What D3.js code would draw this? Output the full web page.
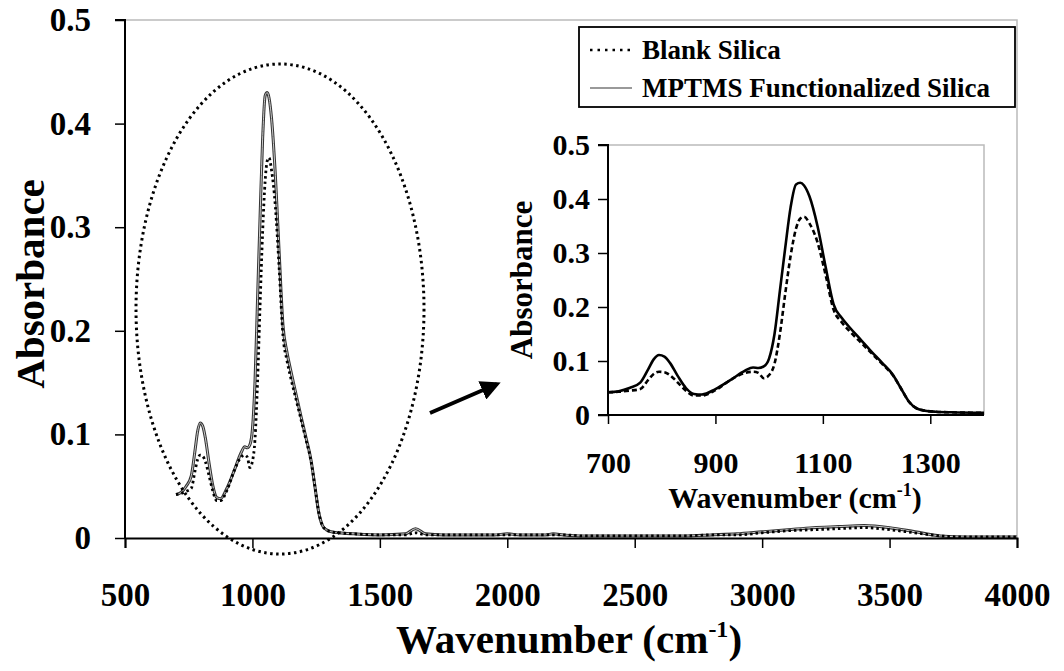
<!DOCTYPE html>
<html>
<head>
<meta charset="utf-8">
<script src="https://cdn.jsdelivr.net/npm/d3@7"></script>
<style>
  body { margin: 0; background: #fff; }
</style>
</head>
<body>
<svg id="chart" width="1064" height="671"></svg>
<script>
// wavenumbers (cm-1) shared by both spectra
const waves = [700, 720, 740, 760, 775, 785, 795, 805, 815, 830, 845, 860, 875, 900, 930, 955, 970, 980, 990,
  1000, 1010, 1020, 1030, 1040, 1050, 1058, 1065, 1075, 1090, 1105, 1120, 1135, 1150, 1170, 1190, 1210, 1230,
  1245, 1260, 1275, 1290, 1310, 1340, 1400, 1500, 1600, 1640, 1680, 1750, 1850, 1950, 2000, 2050, 2150, 2180,
  2220, 2300, 2400, 2500, 2600, 2700, 2800, 2900, 3000, 3100, 3200, 3300, 3400, 3500, 3600, 3700, 3800, 4000];

const mptms = [0.042, 0.044, 0.050, 0.060, 0.085, 0.103, 0.111, 0.108, 0.097, 0.072, 0.050, 0.039, 0.038, 0.048,
  0.066, 0.082, 0.088, 0.087, 0.090, 0.105, 0.150, 0.230, 0.310, 0.385, 0.427, 0.430, 0.425, 0.405, 0.350, 0.275,
  0.205, 0.180, 0.162, 0.140, 0.118, 0.097, 0.075, 0.050, 0.025, 0.012, 0.008, 0.006, 0.005, 0.004, 0.003, 0.004,
  0.009, 0.004, 0.003, 0.003, 0.003, 0.004, 0.003, 0.003, 0.004, 0.003, 0.002, 0.002, 0.002, 0.002, 0.002, 0.003,
  0.004, 0.006, 0.008, 0.010, 0.011, 0.012, 0.010, 0.006, 0.002, 0.001, 0.001];

const blank = [0.042, 0.043, 0.045, 0.048, 0.065, 0.076, 0.080, 0.079, 0.074, 0.060, 0.045, 0.036, 0.036, 0.046,
  0.066, 0.078, 0.080, 0.078, 0.068, 0.074, 0.095, 0.150, 0.225, 0.295, 0.345, 0.364, 0.367, 0.355, 0.320, 0.260,
  0.195, 0.172, 0.155, 0.135, 0.115, 0.095, 0.074, 0.050, 0.025, 0.012, 0.008, 0.006, 0.005, 0.004, 0.003, 0.003,
  0.005, 0.003, 0.003, 0.003, 0.003, 0.003, 0.003, 0.003, 0.003, 0.003, 0.002, 0.002, 0.002, 0.002, 0.002, 0.003,
  0.003, 0.005, 0.007, 0.008, 0.009, 0.010, 0.008, 0.005, 0.002, 0.001, 0.001];

const legendLabels = ["Blank Silica", "MPTMS Functionalized Silica"];
const mainXTicks = [500, 1000, 1500, 2000, 2500, 3000, 3500, 4000];
const mainYTicks = [0, 0.1, 0.2, 0.3, 0.4, 0.5];
const insetXTicks = [700, 900, 1100, 1300];
const insetYTicks = [0, 0.1, 0.2, 0.3, 0.4, 0.5];

const FONT = '"Liberation Serif"';

const svg = d3.select('#chart');
const fmtY = (d) => (d === 0 ? '0' : d3.format('.1f')(d));
const fmtX = d3.format('d');

const blankPts = waves.map((w, i) => [w, blank[i]]);
const mptmsPts = waves.map((w, i) => [w, mptms[i]]);

// serif bold text helper
function bold(sel, size) {
  return sel
    .style('font-family', FONT)
    .style('font-weight', 'bold')
    .style('font-size', size + 'px')
    .attr('fill', '#000');
}

function styleAxis(g, size) {
  g.attr('font-family', null).attr('font-size', null);
  g.select('.domain').attr('stroke', '#000').attr('stroke-width', 2);
  g.selectAll('.tick line').attr('stroke', '#000').attr('stroke-width', 1.5);
  bold(g.selectAll('.tick text'), size);
}

function addTitle(parent, size, supSize, supShift) {
  const t = bold(parent.append('text').attr('text-anchor', 'middle'), size);
  t.append('tspan').text('Wavenumber (cm');
  t.append('tspan').attr('dy', -supShift).style('font-size', supSize + 'px').text('-1');
  t.append('tspan').attr('dy', supShift).text(')');
  return t;
}

// ---------- main chart ----------
const x = d3.scaleLinear().domain([500, 4000]).range([125, 1017]);
const y = d3.scaleLinear().domain([0, 0.5]).range([538, 20]);

const main = svg.append('g');

// light frame on top and right
main.append('path')
  .attr('d', `M${x(500)},${y(0.5)}H${x(4000)}V${y(0)}`)
  .attr('fill', 'none')
  .attr('stroke', '#bbb')
  .attr('stroke-width', 1.5);

const mainLine = d3.line().x((d) => x(d[0])).y((d) => y(d[1])).curve(d3.curveMonotoneX);

// functionalized spectrum: gray line with dark edges
main.append('path').attr('d', mainLine(mptmsPts))
  .attr('fill', 'none').attr('stroke', '#333').attr('stroke-width', 3);
main.append('path').attr('d', mainLine(mptmsPts))
  .attr('fill', 'none').attr('stroke', '#ccc').attr('stroke-width', 1);

main.append('path').attr('d', mainLine(blankPts))
  .attr('fill', 'none').attr('stroke', '#000').attr('stroke-width', 2.8)
  .attr('stroke-dasharray', '2.5,3');

const mxAxis = main.append('g')
  .attr('transform', `translate(0,${y(0)})`)
  .call(d3.axisBottom(x).tickValues(mainXTicks).tickFormat(fmtX).tickSize(10).tickPadding(28));
const myAxis = main.append('g')
  .attr('transform', `translate(${x(500)},0)`)
  .call(d3.axisLeft(y).tickValues(mainYTicks).tickFormat(fmtY).tickSize(10).tickPadding(24));

styleAxis(mxAxis, 33);
styleAxis(myAxis, 33);
myAxis.select('.domain').attr('d', `M-10,${y(0.5)}H0V${y(0)}`);
mxAxis.selectAll('.tick text').attr('dy', '0.9em');

bold(main.append('text'), 41)
  .attr('transform', 'translate(44,284) rotate(-90)')
  .attr('text-anchor', 'middle')
  .text('Absorbance');

addTitle(main, 41, 24, 16).attr('x', 569).attr('y', 653);

// dotted ellipse marking the zoomed region
main.append('ellipse')
  .attr('cx', 280).attr('cy', 309).attr('rx', 144).attr('ry', 245)
  .attr('fill', 'none').attr('stroke', '#000').attr('stroke-width', 3)
  .attr('stroke-dasharray', '2.5,3.5');

// arrow towards the inset
svg.append('defs').append('marker')
  .attr('id', 'head').attr('viewBox', '0 0 10 10')
  .attr('refX', 8).attr('refY', 5)
  .attr('markerWidth', 5).attr('markerHeight', 5)
  .attr('orient', 'auto')
  .append('path').attr('d', 'M0,0L10,5L0,10Z').attr('fill', '#000');
main.append('line')
  .attr('x1', 430).attr('y1', 413).attr('x2', 497).attr('y2', 384)
  .attr('stroke', '#000').attr('stroke-width', 4)
  .attr('marker-end', 'url(#head)');

// legend
const legend = main.append('g');
legend.append('rect')
  .attr('x', 579).attr('y', 27).attr('width', 436).attr('height', 80)
  .attr('fill', '#fff').attr('stroke', '#000').attr('stroke-width', 1.8);
const legendStyles = [
  { stroke: '#000', width: 2.5, dash: '2.5,5' },
  { stroke: '#999', width: 2, dash: null }
];
legendLabels.forEach((label, i) => {
  const ly = 50 + i * 38;
  legend.append('line')
    .attr('x1', 590).attr('x2', 632).attr('y1', ly).attr('y2', ly)
    .attr('stroke', legendStyles[i].stroke)
    .attr('stroke-width', legendStyles[i].width)
    .attr('stroke-dasharray', legendStyles[i].dash);
  bold(legend.append('text'), 27)
    .attr('x', 642).attr('y', ly + 9)
    .text(label);
});

// ---------- inset ----------
const ix = d3.scaleLinear().domain([700, 1400]).range([608, 984]);
const iy = d3.scaleLinear().domain([0, 0.5]).range([415, 145]);
const inset = svg.append('g');

inset.append('path')
  .attr('d', `M${ix(700)},${iy(0.5)}H${ix(1400)}V${iy(0)}`)
  .attr('fill', 'none').attr('stroke', '#bbb').attr('stroke-width', 1.5);

const insetLine = d3.line().x((d) => ix(d[0])).y((d) => iy(d[1])).curve(d3.curveMonotoneX);
const inRange = (pts) => pts.filter((d) => d[0] <= 1400);

inset.append('path').attr('d', insetLine(inRange(mptmsPts)))
  .attr('fill', 'none').attr('stroke', '#000').attr('stroke-width', 2.6);
inset.append('path').attr('d', insetLine(inRange(blankPts)))
  .attr('fill', 'none').attr('stroke', '#000').attr('stroke-width', 2.6)
  .attr('stroke-dasharray', '5,3');

const ixAxis = inset.append('g')
  .attr('transform', `translate(0,${iy(0)})`)
  .call(d3.axisBottom(ix).tickValues(insetXTicks).tickFormat(fmtX).tickSize(9).tickPadding(22));
const iyAxis = inset.append('g')
  .attr('transform', `translate(${ix(700)},0)`)
  .call(d3.axisLeft(iy).tickValues(insetYTicks).tickFormat(fmtY).tickSize(10).tickPadding(8));

styleAxis(ixAxis, 30);
styleAxis(iyAxis, 30);
iyAxis.select('.domain').attr('d', `M-10,${iy(0.5)}H0V${iy(0)}`);
ixAxis.select('.domain').attr('d', `M${ix(700) - 10},0H${ix(1400)}`);
ixAxis.selectAll('.tick text').attr('dy', '0.9em');

bold(inset.append('text'), 31)
  .attr('transform', 'translate(532,280) rotate(-90)')
  .attr('text-anchor', 'middle')
  .text('Absorbance');

addTitle(inset, 30, 18, 12).attr('x', 795).attr('y', 508);
</script>
</body>
</html>
